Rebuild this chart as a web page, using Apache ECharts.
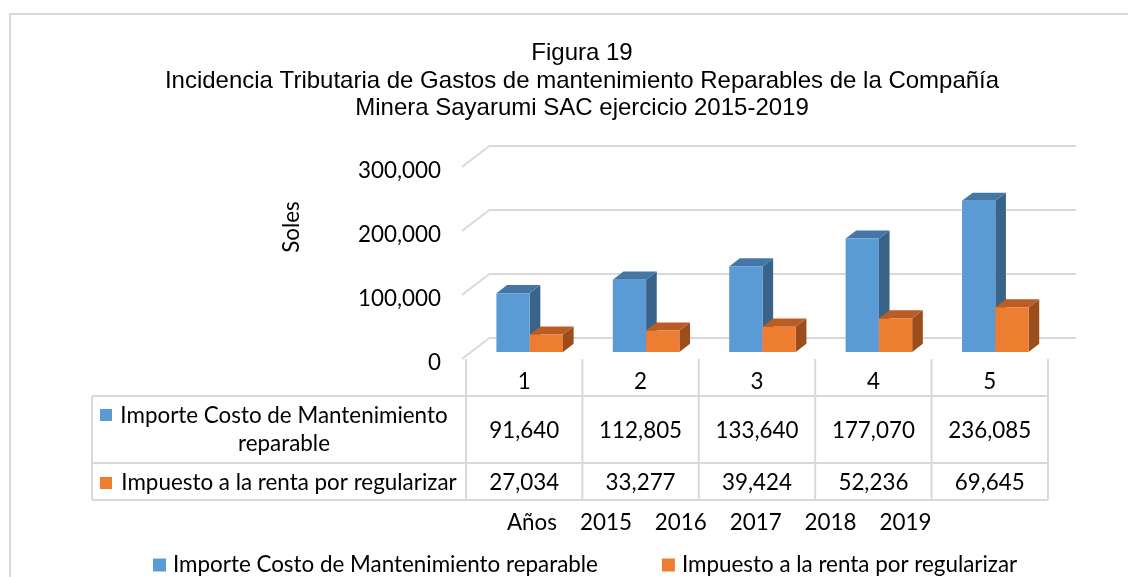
<!DOCTYPE html>
<html><head><meta charset="utf-8">
<script src="https://cdn.jsdelivr.net/npm/echarts@6/dist/echarts.min.js"></script>
<style>html,body{margin:0;padding:0;background:#fff}#c{width:1128px;height:577px}</style>
</head><body><div id="c"></div>
<script>
// ---- data ----
const categories = ['1', '2', '3', '4', '5'];
const years = ['2015', '2016', '2017', '2018', '2019'];
const seriesNames = ['Importe Costo de Mantenimiento reparable', 'Impuesto a la renta por regularizar'];
const rowLabelLines = [['Importe Costo de Mantenimiento', 'reparable'], ['Impuesto a la renta por regularizar']];
const importeCosto = [91640, 112805, 133640, 177070, 236085];
const impuestoRenta = [27034, 33277, 39424, 52236, 69645];
const yTicks = [0, 100000, 200000, 300000];
const yMax = 300000, yStep = 100000;
const titleLines = ['Figura 19', 'Incidencia Tributaria de Gastos de mantenimiento Reparables de la Compañía', 'Minera Sayarumi SAC ejercicio 2015-2019'];
const yAxisTitle = 'Soles';
const xAxisTitle = 'Años';

// ---- style ----
const FONT = 'Lato';
const FS = 22.4;
const GRID_C = '#d9d9d9';
const DX = 28, DY = -21.5;      // full depth of the 3D box
const F1 = 0.33, F2 = 0.71;     // bar front/back depth fractions
const BAR_FRAC = 0.286, SHIFT = 5.5;
const faces = [
  { front: '#5b9bd5', top: '#4577a6', side: '#3a6389' },
  { front: '#ed7d31', top: '#b95d24', side: '#9b4d1c' }
];
const ROW_H = [37, 67, 37]; // header, row1, row2
const fmt = v => v.toLocaleString('en-US');

function barRender(sIdx) {
  return function (params, api) {
    const i = api.value(0), v = api.value(1);
    const p0 = api.coord([i, 0]), p1 = api.coord([i, v]);
    const bw = api.size([1, 0])[0];
    const w = bw * BAR_FRAC;
    const xl = p0[0] + SHIFT - w + sIdx * w, xr = xl + w;
    const base = p0[1] + DY * F1, top = p1[1] + DY * F1;
    const dx = DX * (F2 - F1), dy = DY * (F2 - F1);
    const c = faces[sIdx];
    return { type: 'group', children: [
      { type: 'polygon', shape: { points: [[xr, top], [xr + dx, top + dy], [xr + dx, base + dy], [xr, base]] }, style: { fill: c.side } },
      { type: 'polygon', shape: { points: [[xl, top], [xr, top], [xr + dx, top + dy], [xl + dx, top + dy]] }, style: { fill: c.top } },
      { type: 'rect', shape: { x: xl, y: top, width: w, height: base - top }, style: { fill: c.front } }
    ] };
  };
}

// side-wall diagonals + value tick labels on the front edge
function diagRender(params, api) {
  const v = api.value(1);
  const p = api.coord([0, v]);
  const bw = api.size([1, 0])[0];
  const x0 = p[0] - bw / 2 - 4;
  return { type: 'group', children: [
    { type: 'line', shape: { x1: x0, y1: p[1], x2: x0 + DX, y2: p[1] + DY }, style: { stroke: GRID_C, lineWidth: 2 } },
    { type: 'text', x: x0 - 21, y: p[1] + 4, style: { text: fmt(v), fontFamily: FONT, fontSize: FS, fill: '#000', align: 'right', verticalAlign: 'middle' } }
  ] };
}

function tableRender(params, api) {
  const i = api.value(0);
  const p = api.coord([i, 0]);
  const bw = api.size([1, 0])[0];
  const y0 = p[1];
  const yEnd = y0 + ROW_H[0] + ROW_H[1] + ROW_H[2];
  const ch = [
    { type: 'line', shape: { x1: p[0] - bw / 2, y1: y0, x2: p[0] - bw / 2, y2: yEnd }, style: { stroke: GRID_C, lineWidth: 2 } },
    { type: 'text', x: p[0], y: y0 + ROW_H[0] + ROW_H[1] / 2 + 1, style: { text: fmt(api.value(2)), fontFamily: FONT, fontSize: FS, fill: '#000', align: 'center', verticalAlign: 'middle' } },
    { type: 'text', x: p[0], y: y0 + ROW_H[0] + ROW_H[1] + ROW_H[2] / 2 + 1, style: { text: fmt(api.value(3)), fontFamily: FONT, fontSize: FS, fill: '#000', align: 'center', verticalAlign: 'middle' } }
  ];
  if (params.dataIndex === categories.length - 1) {
    ch.push({ type: 'line', shape: { x1: p[0] + bw / 2, y1: y0, x2: p[0] + bw / 2, y2: yEnd }, style: { stroke: GRID_C, lineWidth: 2 } });
  }
  return { type: 'group', children: ch };
}

const chart = echarts.init(document.getElementById('c'), null, { renderer: 'canvas' });

// table left column (layout)
const TL = 92, TR = 1048, T0 = 359;
const tY1 = T0 + ROW_H[0], tY2 = tY1 + ROW_H[1], tY3 = tY2 + ROW_H[2];
const graphics = [
  { type: 'rect', shape: { x: 10, y: 14, width: 1200, height: 700 }, style: { fill: 'none', stroke: GRID_C, lineWidth: 2 }, silent: true },
  { type: 'line', shape: { x1: TL, y1: tY1, x2: TR, y2: tY1 }, style: { stroke: GRID_C, lineWidth: 2 } },
  { type: 'line', shape: { x1: TL, y1: tY2, x2: TR, y2: tY2 }, style: { stroke: GRID_C, lineWidth: 2 } },
  { type: 'line', shape: { x1: TL, y1: tY3, x2: TR, y2: tY3 }, style: { stroke: GRID_C, lineWidth: 2 } },
  { type: 'line', shape: { x1: TL, y1: tY1, x2: TL, y2: tY3 }, style: { stroke: GRID_C, lineWidth: 2 } },
  // row 1 label
  { type: 'rect', shape: { x: 100, y: 409, width: 12, height: 12 }, style: { fill: faces[0].front } },
  { type: 'text', x: 284, y: 416, style: { text: rowLabelLines[0][0], fontFamily: FONT, fontSize: FS, fill: '#000', align: 'center', verticalAlign: 'middle' } },
  { type: 'text', x: 284, y: 444, style: { text: rowLabelLines[0][1], fontFamily: FONT, fontSize: FS, fill: '#000', align: 'center', verticalAlign: 'middle' } },
  // row 2 label
  { type: 'rect', shape: { x: 100, y: 477, width: 12, height: 12 }, style: { fill: faces[1].front } },
  { type: 'text', x: 289, y: 483, style: { text: rowLabelLines[1][0], fontFamily: FONT, fontSize: FS, fill: '#000', align: 'center', verticalAlign: 'middle' } },
  // axis titles
  { type: 'text', x: 292, y: 227, rotation: Math.PI / 2, style: { text: yAxisTitle, fontFamily: FONT, fontSize: FS, fill: '#000', align: 'center', verticalAlign: 'middle' } },
  { type: 'text', x: 507, y: 523, style: { text: xAxisTitle + '    ' + years.join('    '), fontFamily: FONT, fontSize: FS, fill: '#000', align: 'left', verticalAlign: 'middle' } }
];

chart.setOption({
  animation: false,
  backgroundColor: '#fff',
  title: {
    text: titleLines.join('\n'),
    left: 577, top: 35, textAlign: 'center',
    textStyle: { fontFamily: 'Liberation Sans', fontSize: 24, fontWeight: 'normal', color: '#000', lineHeight: 27.5 }
  },
  legend: {
    data: seriesNames,
    left: 148, top: 549,
    icon: 'rect', itemWidth: 13, itemHeight: 13, itemGap: 64,
    textStyle: { fontFamily: FONT, fontSize: FS, color: '#000', padding: [0, 0, 0, 2] }
  },
  grid: [
    { left: 466, right: 80, top: 167, height: 192 },      // front plane
    { left: 490, right: 52, top: 145.5, height: 192 }     // back wall
  ],
  xAxis: [
    { type: 'category', gridIndex: 0, data: categories, axisLine: { show: false }, axisTick: { show: false },
      axisLabel: { margin: 12, fontFamily: FONT, fontSize: FS, color: '#000' }, splitLine: { show: false } },
    { type: 'category', gridIndex: 1, data: categories, show: false }
  ],
  yAxis: [
    { type: 'value', gridIndex: 0, min: 0, max: yMax, interval: yStep, axisLine: { show: false }, axisTick: { show: false },
      splitLine: { show: false }, axisLabel: { show: false } },
    { type: 'value', gridIndex: 1, min: 0, max: yMax, interval: yStep, axisLine: { show: false }, axisTick: { show: false },
      axisLabel: { show: false }, splitLine: { show: true, lineStyle: { color: GRID_C, width: 2 } } }
  ],
  series: [
    { type: 'custom', name: 'diag', xAxisIndex: 0, yAxisIndex: 0, silent: true, z: 1,
      data: yTicks.map(t => [0, t]), renderItem: diagRender },
    { type: 'custom', name: seriesNames[0], xAxisIndex: 0, yAxisIndex: 0, z: 3, itemStyle: { color: faces[0].front },
      data: importeCosto.map((v, i) => [i, v]), encode: { x: 0, y: 1 }, renderItem: barRender(0) },
    { type: 'custom', name: seriesNames[1], xAxisIndex: 0, yAxisIndex: 0, z: 4, itemStyle: { color: faces[1].front },
      data: impuestoRenta.map((v, i) => [i, v]), encode: { x: 0, y: 1 }, renderItem: barRender(1) },
    { type: 'custom', name: 'table', xAxisIndex: 0, yAxisIndex: 0, silent: true, z: 2,
      data: categories.map((c, i) => [i, 0, importeCosto[i], impuestoRenta[i]]), encode: { x: 0, y: 1 }, renderItem: tableRender }
  ],
  graphic: graphics
});
</script>
</body></html>
